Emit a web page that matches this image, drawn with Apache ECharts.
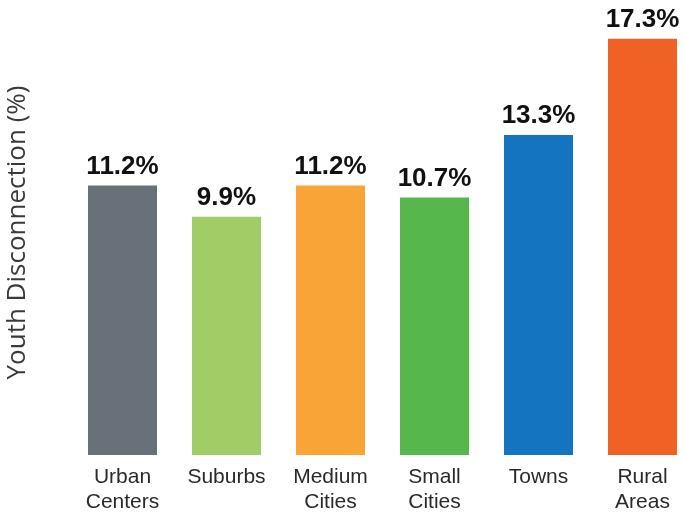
<!DOCTYPE html>
<html>
<head>
<meta charset="utf-8">
<script src="https://cdn.jsdelivr.net/npm/echarts@6/dist/echarts.min.js"></script>
<style>
  html, body { margin: 0; padding: 0; background: #ffffff; }
  #chart { width: 683px; height: 515px; }
</style>
</head>
<body>
<div id="chart"></div>
<script>
// Youth disconnection rate by place type
const categories = ['Urban\nCenters', 'Suburbs', 'Medium\nCities', 'Small\nCities', 'Towns', 'Rural\nAreas'];
const values = [11.2, 9.9, 11.2, 10.7, 13.3, 17.3];
const barColors = ['#68707a', '#a0cd65', '#f9a436', '#56b84c', '#1474bf', '#ef6124'];
const axisTitle = 'Youth Disconnection (%)';

const chart = echarts.init(document.getElementById('chart'), null, { renderer: 'canvas' });

chart.setOption({
  animation: false,
  backgroundColor: '#ffffff',
  grid: { left: 70.5, top: 22, width: 624, bottom: 60, containLabel: false, outerBoundsMode: 'none' },
  xAxis: {
    type: 'category',
    data: categories,
    axisLine: { show: false },
    axisTick: { show: false },
    axisLabel: {
      interval: 0,
      margin: 10,
      color: '#2a2a2a',
      fontFamily: 'Liberation Sans',
      fontSize: 21,
      lineHeight: 25,
      verticalAlign: 'top'
    }
  },
  yAxis: {
    type: 'value',
    min: 0,
    max: 18,
    axisLine: { show: false },
    axisTick: { show: false },
    axisLabel: { show: false },
    splitLine: { show: false },
    name: axisTitle,
    nameLocation: 'middle',
    nameRotate: 90,
    nameGap: 40,
    nameTextStyle: {
      color: '#3a3a3a',
      fontFamily: 'Open Sans',
      fontSize: 26,
      padding: [0, 0, 0, 12]
    }
  },
  series: [{
    type: 'bar',
    barWidth: 69,
    data: values.map((v, i) => ({ value: v, itemStyle: { color: barColors[i] } })),
    label: {
      show: true,
      position: 'top',
      distance: 6,
      formatter: p => p.value.toFixed(1) + '%',
      color: '#111111',
      fontFamily: 'Liberation Sans',
      fontWeight: 'bold',
      fontSize: 26
    }
  }]
});
</script>
</body>
</html>
